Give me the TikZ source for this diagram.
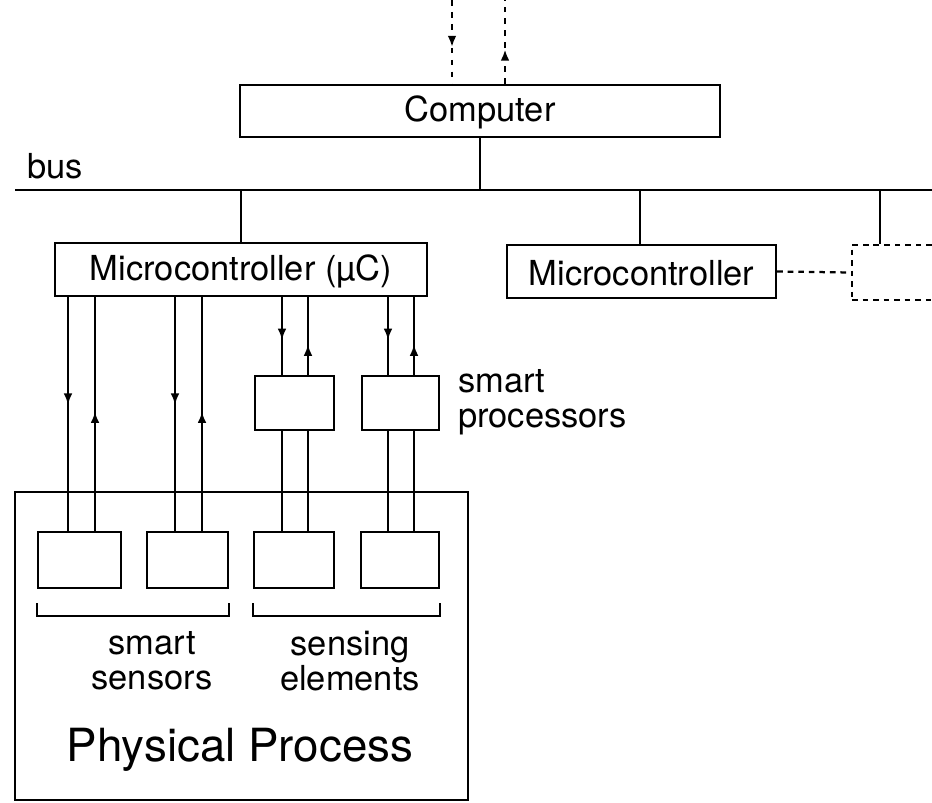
\documentclass[tikz,border=0pt]{standalone}
\usepackage{fontspec}
\setmainfont{TeX Gyre Heros}
\usetikzlibrary{arrows.meta,decorations.markings}

\tikzset{
  unit/.style={draw, line width=1.6pt, inner sep=0pt},
  ghost/.style={unit, dashed, dash pattern=on 4pt off 3.5pt},
  wire/.style={line width=1.6pt},
  txt/.style={font=\fontsize{24.5}{25}\selectfont, inner sep=0pt},
  midarrow/.style={postaction={decorate}, decoration={markings,
      mark=at position #1 with {\arrow{Latex[length=2.8mm,width=2.2mm]}}}}
}

\begin{document}
\begin{tikzpicture}[x=0.025cm, y=-0.025cm]
  \useasboundingbox (0,0) rectangle (932,802);

  % Computer and bus
  \node[unit, minimum width=12cm, minimum height=1.3cm] (comp) at (480,111) {};
  \node[txt] (comptxt) at (480,112) {Computer};
  \coordinate (busL) at (15,190);
  \coordinate (busR) at (950,190);
  \draw[wire] (busL) -- (busR);
  \node[txt] (buslbl) at (55,166) {bus};
  \draw[wire] (comp.south) -- (comp.south |- busL);

  % Links above the computer
  \coordinate (in1) at (452,0);
  \coordinate (out1) at (505,0);
  \draw[wire, dashed, dash pattern=on 4pt off 4.5pt, midarrow=0.56] (in1) -- (comp.north -| in1);
  \draw[wire, dashed, dash pattern=on 4pt off 4.5pt, midarrow=0.41] (comp.north -| out1) -- (out1);

  % Microcontrollers
  \node[unit, minimum width=9.3cm, minimum height=1.325cm] (mcu) at (241,269.5) {};
  \node[txt] (mcutxt) at (241,271) {Microcontroller (µC)};
  \node[unit, minimum width=6.725cm, minimum height=1.325cm] (mcb) at (641.5,271.5) {};
  \node[txt] (mcbtxt) at (641.5,273) {Microcontroller};
  \node[ghost, minimum width=4cm, minimum height=1.375cm] (mcc) at (932,272.5) {};
  \coordinate (tapc) at (880,0);
  \draw[wire] (mcu.north) -- (mcu.north |- busL);
  \draw[wire] (mcb.north -| 640,0) -- (busL -| 640,0);
  \draw[wire] (mcc.north -| tapc) -- (busL -| tapc);
  \draw[wire, dashed, dash pattern=on 4pt off 3.5pt] (mcb.east) -- (mcc.west);

  % Physical process
  \node[draw, line width=1.2pt, minimum width=11.325cm, minimum height=7.7cm] (proc) at (241.5,646) {};
  \node[font=\fontsize{32.5}{34}\selectfont, inner sep=0pt] (proctxt) at (240,750) {Physical Process};

  % Sensors and smart processors
  \node[unit, minimum width=2.075cm, minimum height=1.4cm] (s1) at (79.5,560) {};
  \node[unit, minimum width=2.025cm, minimum height=1.4cm] (s2) at (187.5,560) {};
  \node[unit, minimum width=2cm, minimum height=1.4cm] (s3) at (294,560) {};
  \node[unit, minimum width=1.95cm, minimum height=1.4cm] (s4) at (400,560) {};
  \node[unit, minimum width=1.975cm, minimum height=1.35cm] (sp1) at (294.5,403) {};
  \node[unit, minimum width=1.925cm, minimum height=1.35cm] (sp2) at (400.5,403) {};
  \node[txt, anchor=west, align=left] (sptxt) at (458,402) {smart\\processors};

  % Signal lines
  \foreach \s/\xa/\xb in {s1/68/95, s2/175/202} {
    \draw[wire, midarrow=0.46] (mcu.south -| \xa,0) -- (\s.north -| \xa,0);
    \draw[wire, midarrow=0.51] (\s.north -| \xb,0) -- (mcu.south -| \xb,0);
  }
  \foreach \p/\s/\xa/\xb in {sp1/s3/282/308, sp2/s4/388/414} {
    \draw[wire, midarrow=0.55] (mcu.south -| \xa,0) -- (\p.north -| \xa,0);
    \draw[wire, midarrow=0.39] (\p.north -| \xb,0) -- (mcu.south -| \xb,0);
    \draw[wire] (\p.south -| \xa,0) -- (\s.north -| \xa,0);
    \draw[wire] (\p.south -| \xb,0) -- (\s.north -| \xb,0);
  }

  % Brackets
  \draw[line width=1.2pt] ([yshift=-0.35cm]s1.south west) -- ([yshift=-0.675cm]s1.south west)
    -- ([yshift=-0.675cm]s2.south east) -- ([yshift=-0.35cm]s2.south east);
  \draw[line width=1.2pt] ([yshift=-0.35cm]s3.south west) -- ([yshift=-0.675cm]s3.south west)
    -- ([yshift=-0.675cm]s4.south east) -- ([yshift=-0.35cm]s4.south east);
  \node[txt, align=center] (sstxt) at (152,661) {smart\\sensors};
  \node[txt, align=center] (setxt) at (350,661) {sensing\\elements};

\end{tikzpicture}
\end{document}
